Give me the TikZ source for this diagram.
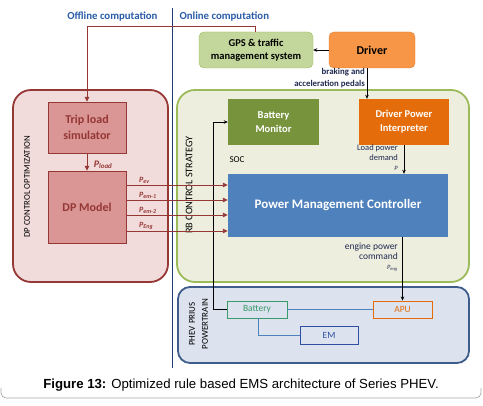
\documentclass[tikz,border=0pt]{standalone}
\usepackage{fontspec}
\setmainfont{Carlito}
\newfontfamily\capfont{Liberation Sans}
\usepackage{xcolor}
\usepackage{tikz}
\usetikzlibrary{arrows.meta,positioning,calc}

\definecolor{hdrblue}{HTML}{2A5CA8}
\definecolor{divnavy}{HTML}{1F3A6E}
\definecolor{dpred}{HTML}{953735}
\definecolor{dpfill}{HTML}{F2DCDB}
\definecolor{dpblock}{HTML}{D99694}
\definecolor{rbgreen}{HTML}{9BBB59}
\definecolor{rbfill}{HTML}{EEEEDF}
\definecolor{gpsfill}{HTML}{C3D69B}
\definecolor{drvfill}{HTML}{F79646}
\definecolor{drvedge}{HTML}{E07B2E}
\definecolor{monolive}{HTML}{77933C}
\definecolor{dpiorange}{HTML}{E46C0A}
\definecolor{pmcblue}{HTML}{4F81BD}
\definecolor{ptnavy}{HTML}{3F5D8A}
\definecolor{ptfill}{HTML}{DCE3EE}
\definecolor{batgreen}{HTML}{3A9A6A}
\definecolor{emblue}{HTML}{2F4FA2}
\definecolor{notecol}{HTML}{1F2A50}

\begin{document}
\begin{tikzpicture}[x=1pt,y=-1pt,>=Stealth,
  region/.style={rounded corners=18pt,line width=1.8pt},
  unit/.style={align=center,inner sep=0pt,font=\fontsize{10.5}{14}\selectfont\bfseries},
  part/.style={draw,line width=0.9pt,minimum height=17pt,inner sep=0pt,font=\fontsize{9.5}{10}\selectfont},
  note/.style={align=right,inner sep=0pt,text=notecol,font=\fontsize{8}{10}\selectfont},
  redarrow/.style={->,draw=dpred,line width=0.9pt,>={Triangle[length=5pt,width=4.5pt]}},
  blackarrow/.style={->,line width=0.6pt,>={Stealth[length=4pt,width=3.5pt]}},
  ptline/.style={draw=pmcblue,line width=0.8pt}]
  \useasboundingbox (0,0) rectangle (483,406);

  % headers and divider
  \draw[divnavy,line width=0.8pt] (172,8) -- (172,368);
  \node[anchor=east,text=hdrblue,font=\fontsize{10.8}{12}\selectfont\bfseries] (offline) at (161,17) {Offline computation};
  \node[anchor=west,text=hdrblue,font=\fontsize{10.8}{12}\selectfont\bfseries] (online) at (176,17) {Online computation};

  % regions
  \node[region,draw=dpred,fill=dpfill,minimum width=155pt,minimum height=192pt] (dpopt) at (90.5,186) {};
  \node[region,draw=rbgreen,fill=rbfill,minimum width=292pt,minimum height=192pt] (rbctl) at (323,186) {};
  \node[region,rounded corners=12pt,draw=ptnavy,fill=ptfill,minimum width=291pt,minimum height=76pt] (ptrain) at (323.5,325) {};
  \node[rotate=90,font=\fontsize{8.8}{10}\selectfont] (dplab) at (27,187) {DP CONTROL OPTIMIZATION};
  \node[rotate=90,font=\fontsize{10.2}{12}\selectfont] (rblab) at (189,185) {RB CONTROL STRATEGY};
  \node[rotate=90,align=center,font=\fontsize{9}{13}\selectfont] (ptlab) at (198.5,324) {PHEV PRIUS\\POWERTRAIN};

  % blocks
  \node[draw=rbgreen,fill=gpsfill,rounded corners=5pt,minimum width=114pt,minimum height=36pt,unit,font=\fontsize{10.5}{12.5}\selectfont\bfseries] (gps) at (256,50) {GPS \& traffic\\management system};
  \node[draw=drvedge,fill=drvfill,rounded corners=5pt,minimum width=86pt,minimum height=36pt,unit,font=\fontsize{12}{14}\selectfont\bfseries] (driver) at (372,50) {Driver};
  \node[draw=dpred,fill=dpblock,minimum width=78pt,minimum height=51pt,unit,text=dpred,font=\fontsize{12}{16}\selectfont\bfseries] (trip) at (87,127.5) {Trip load\\simulator};
  \node[draw=dpred,fill=dpblock,minimum width=78pt,minimum height=72pt,unit,text=dpred,font=\fontsize{12}{14}\selectfont\bfseries] (dpm) at (87,207) {DP Model};
  \node[fill=monolive,minimum width=91pt,minimum height=46pt,unit,text=white] (batmon) at (273.5,122) {Battery\\Monitor};
  \node[fill=dpiorange,minimum width=90pt,minimum height=46pt,unit,text=white] (dpi) at (404,122) {Driver Power\\Interpreter};
  \node[fill=pmcblue,minimum width=220pt,minimum height=63pt,unit,text=white,font=\fontsize{13}{15}\selectfont\bfseries] (pmc) at (338,205.5) {Power Management Controller};
  \node[part,draw=batgreen,text=batgreen,minimum width=60pt] (bat) at (257,309.5) {Battery};
  \node[part,draw=dpiorange,text=dpiorange,minimum width=59pt] (apu) at (402.5,309.5) {APU};
  \node[part,draw=emblue,text=emblue,minimum width=58pt,minimum height=18pt] (em) at (329,335) {EM};

  % labels
  \node[note,anchor=north east,font=\fontsize{8.8}{12}\selectfont\bfseries] (pedals) at (365,68) {braking and\\acceleration pedals};
  \node[note,anchor=north east,font=\fontsize{8.5}{10}\selectfont] (demand) at (398,144) {Load power\\demand\\{\fontsize{6.5}{7}\selectfont\textit{P}}};
  \node[note,anchor=north east,font=\fontsize{9.5}{10}\selectfont] (engcmd) at (398,243) {engine power\\command\\{\fontsize{6.5}{7}\selectfont\textit{P}\textsubscript{\textit{eng}}}};
  \node[font=\fontsize{9}{10}\selectfont] (soc) at (237,160) {SOC};

  % connectors
  \draw[blackarrow] (driver.west) -- (gps.east);
  \draw[blackarrow] ([xshift=-5pt]driver.south) -- ([xshift=-5pt]driver.south |- dpi.north);
  \draw[blackarrow] (dpi.south) -- (dpi.south |- pmc.north);
  \draw[blackarrow] (pmc.south -| apu.north) -- (apu.north);
  \draw[blackarrow] (bat.west) -- ++(-13,0) |- (batmon.west);
  \draw[redarrow] ([xshift=-1pt]gps.north) -- ++(0,-5) -| (trip.north);
  \draw[redarrow] (trip.south) -- (dpm.north)
    node[midway,anchor=west,xshift=3pt,yshift=-3pt,text=dpred,font=\fontsize{10}{11}\selectfont\bfseries] (pload) {\textit{P}\textsubscript{\textit{load}}};
  \foreach \y/\sub [count=\i] in {185/ev,200/em-1,215/em-2,231/Eng}{
    \draw[redarrow] (dpm.east |- 0,\y) -- (pmc.west |- 0,\y);
    \node[anchor=south west,inner sep=1pt,text=dpred,font=\fontsize{8}{9}\selectfont\bfseries] (pw\i) at (138,\y) {\textit{P}\textsubscript{\textit{\sub}}};
  }
  \draw[ptline] (bat.east) -- (apu.west);
  \draw[ptline] ([xshift=1pt]bat.south) |- (em.west);

  % caption
  \draw[black!35,line width=0.7pt,rounded corners=5pt] (1,388) -- (1,398) -- (481,398) -- (481,388);
  \node[font=\capfont\fontsize{13.2}{14}\selectfont] (caption) at (241,385) {\textbf{Figure 13:} Optimized rule based EMS architecture of Series PHEV.};
\end{tikzpicture}
\end{document}
